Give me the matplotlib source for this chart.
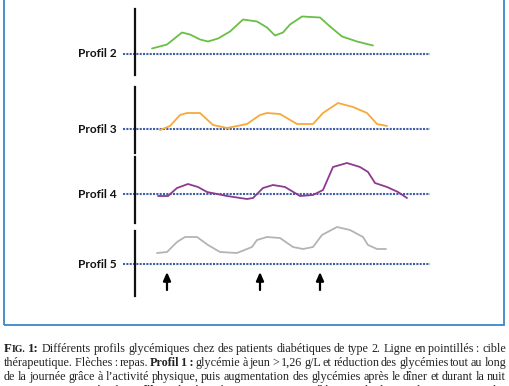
import matplotlib
matplotlib.use("Agg")
import matplotlib.pyplot as plt
from matplotlib.patches import Rectangle

# time axis: arbitrary units from the vertical axis line, glycemia: offset above target
p2_x = [17, 32, 47, 55, 65, 73, 83, 95, 108, 122, 132, 140, 148, 155, 167, 185, 195, 207, 222, 238]
p2_y = [5, 9, 21, 19, 14, 12, 15, 22, 34, 32, 26, 18, 21, 29, 37, 36, 27, 17, 12, 8]

p3_x = [25, 35, 45, 52, 65, 78, 92, 112, 125, 132, 145, 162, 178, 188, 203, 218, 232, 242, 252]
p3_y = [-1, 3, 14, 16, 16, 4, 1, 5, 14, 16, 15, 5, 5, 16, 26, 22, 16, 5, 3]

p4_x = [23, 33, 42, 53, 63, 72, 92, 112, 118, 128, 138, 150, 165, 178, 188, 198, 212, 225, 233, 240, 252, 263, 272]
p4_y = [-2, -2, 6, 10, 7, 2, -2, -5, -4, 6, 9, 7, -2, -1, 4, 27, 31, 27, 22, 11, 7, 2, -4]

p5_x = [22, 32, 42, 50, 62, 73, 85, 102, 117, 122, 132, 145, 158, 168, 178, 187, 202, 215, 228, 233, 242, 251]
p5_y = [11, 12, 22, 27, 27, 19, 12, 11, 17, 24, 27, 26, 17, 15, 17, 29, 37, 34, 27, 19, 15, 15]

meals = [32, 125, 185]

labels = ["Profil 2", "Profil 3", "Profil 4", "Profil 5"]
colors = ["#6abf45", "#f7a93a", "#8e3a8e", "#b4b4b4"]
series = [(p2_x, p2_y), (p3_x, p3_y), (p4_x, p4_y), (p5_x, p5_y)]

W, H = 510, 386
fig = plt.figure(figsize=(W / 100, H / 100), dpi=100)

# panel boxes in pixels: top, bottom, baseline
panels = [(9, 75, 53.5), (87, 153, 129), (157, 223, 194), (231, 296, 264)]
left, right = 123, 430
x0 = 135  # vertical axis line

for (top, bot, base), lab, col, (xs, ys) in zip(panels, labels, colors, series):
    ax = fig.add_axes([left / W, 1 - bot / H, (right - left) / W, (bot - top) / H])
    ax.set_xlim(left - x0, right - x0)
    ax.set_ylim(-(bot - base), base - top)
    ax.patch.set_visible(False)
    for s in ["top", "right", "bottom"]:
        ax.spines[s].set_visible(False)
    ax.spines["left"].set_position(("data", 0))
    ax.spines["left"].set_linewidth(1.6)
    ax.spines["left"].set_color("#111111")
    ax.set_xticks([])
    ax.set_yticks([])
    ax.axhline(0, color="#3d5ea8", lw=1.5, ls=(0, (1, 0.6)))
    ax.plot(xs, ys, color=col, lw=1.3, solid_joinstyle="round",
            solid_capstyle="round", clip_on=False)
    ax.text(-18, -3.5, lab, ha="right", va="baseline", fontsize=8.6,
            fontweight="bold", family="Lato", color="#111111", clip_on=False)
    if lab == "Profil 5":
        for m in meals:
            ax.annotate("", xy=(m, -8), xytext=(m, -26),
                        arrowprops=dict(arrowstyle="-|>,head_length=0.5,head_width=0.22",
                                        color="black", lw=1.6, shrinkA=0, shrinkB=0))

# blue frame around the figure
fig.add_artist(Rectangle((4 / W, 1 - 325 / H), 500 / W, 340 / H,
                         transform=fig.transFigure, fill=False,
                         edgecolor="#3a87c9", lw=1.3))

# caption, justified word by word
R = "normal"
B = "bold"
FS = 8.7
cap_lines = [
    [[("F", B, FS + 0.6), ("IG.", B, FS - 1.6)], [("1:", B, FS + 0.6)], "Différents", "profils",
     "glycémiques", "chez", "des", "patients", "diabétiques", "de", "type", "2.", "Ligne", "en",
     "pointillés\u2009:", "cible"],
    ["thérapeutique.", "Flèches\u2009:", "repas.", [("Profil", B, FS)], [("1\u2009:", B, FS)],
     "glycémie", "à", "jeun", ">", "1,26", "g/L", "et", "réduction", "des", "glycémies",
     "tout", "au", "long"],
    ["de", "la", "journée", "grâce", "à", "l\u2019activité", "physique,", "puis",
     "augmentation", "des", "glycémies", "après", "le", "dîner", "et", "durant", "la", "nuit"],
    ["jusqu\u2019au", "matin", "au", "réveil.", [("Profil", B, FS)], [("2\u2009:", B, FS)],
     "glycémie", "à", "jeun", ">", "1,26", "g/L", "et", "élévation", "de", "plus", "en",
     "plus", "importante", "des"],
]
baselines = [352, 366, 380, 394]
cx0, cx1 = 4, 506

renderer = fig.canvas.get_renderer()
for words, yb in zip(cap_lines, baselines):
    words = [w if isinstance(w, list) else [(w, R, FS)] for w in words]
    made = []
    for w in words:
        pieces = []
        for txt, wt, sz in w:
            t = fig.text(0, 1 - yb / H, txt, fontsize=sz, fontweight=wt,
                         family="Liberation Serif", color="#222222", va="baseline")
            pieces.append(t)
        made.append(pieces)
    widths = []
    for pieces in made:
        widths.append([p.get_window_extent(renderer).width for p in pieces])
    total = sum(sum(w) for w in widths)
    gap = (cx1 - cx0 - total) / (len(made) - 1)
    x = cx0
    for pieces, ws in zip(made, widths):
        for p, wdt in zip(pieces, ws):
            p.set_x(x / W)
            x += wdt
        x += gap

fig.savefig("out.png", dpi=100)
